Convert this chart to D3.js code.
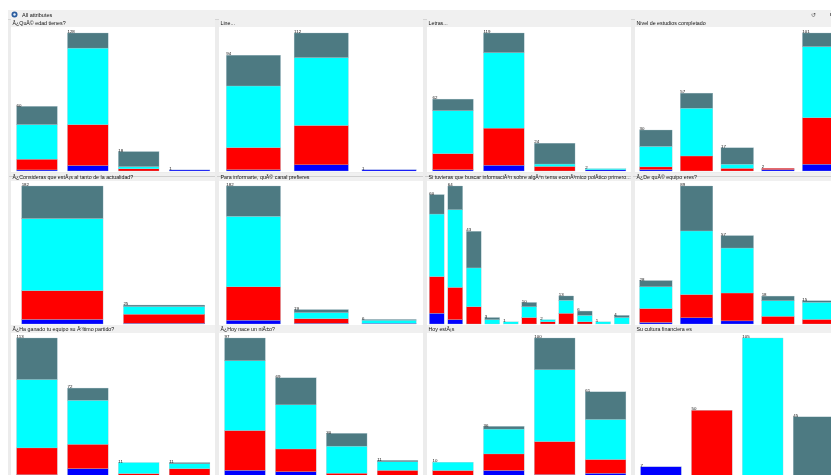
<!DOCTYPE html>
<html>
<head>
<meta charset="utf-8">
<script src="https://d3js.org/d3.v7.min.js"></script>
<style>
  html, body { margin: 0; padding: 0; background: #fff; overflow: hidden; }
  svg { display: block; filter: blur(0.45px); }
  text { font-family: "Liberation Sans", sans-serif; fill: #111; }
</style>
</head>
<body>
<div id="chart"></div>
<script>
// one array per attribute, every bar is [blue, red, cyan, slate]
const edad = [[1, 10, 32, 17], [5, 38, 71, 14], [0, 2, 2, 14], [1, 0, 0, 0]];
const linea = [[1, 18, 50, 25], [5, 32, 55, 20], [1, 0, 0, 0]];
const letras = [[1, 14, 37, 10], [5, 32, 65, 17], [0, 4, 2, 18], [1, 0, 1, 0]];
const estudios = [[1, 2, 15, 12], [0, 11, 35, 11], [0, 2, 3, 12], [1, 1, 0, 0], [5, 34, 52, 10]];
const actualidad = [[6, 38, 95, 43], [1, 12, 10, 2]];
const canal = [[5, 44, 93, 40], [1, 6, 8, 4], [1, 0, 4, 1]];
const buscar = [[5, 17, 29, 9], [2, 15, 36, 11], [0, 8, 18, 17], [0, 0, 2, 1], [0, 0, 1, 0], [0, 3, 5, 2],
                [0, 1, 1, 0], [0, 5, 6, 2], [0, 1, 3, 2], [0, 0, 1, 0], [0, 0, 3, 1]];
const equipo = [[1, 9, 14, 4], [4, 15, 41, 29], [2, 18, 29, 8], [0, 5, 10, 3], [0, 3, 11, 1]];
const ganado = [[1, 22, 56, 34], [6, 20, 36, 10], [0, 2, 9, 0], [0, 6, 4, 1]];
const nino = [[4, 28, 49, 16], [3, 16, 31, 19], [0, 2, 19, 9], [0, 4, 6, 1]];
const hoy = [[0, 4, 6, 0], [4, 12, 18, 2], [1, 24, 52, 23], [2, 10, 29, 20]];
const cultura = [[7, 0, 0, 0], [0, 50, 0, 0], [0, 0, 105, 0], [0, 0, 0, 45]];

const titles = [
  "Â¿QuÃ© edad tienes?", "Line...", "Letras...", "Nivel de estudios completado",
  "Â¿Consideras que estÃ¡s al tanto de la actualidad?", "Para informarte, quÃ© canal prefieres",
  "Si tuvieras que buscar informaciÃ³n sobre algÃºn tema econÃ³mico polÃ­tico primero...", "Â¿De quÃ© equipo eres?",
  "Â¿Ha ganado tu equipo su Ãºltimo partido?", "Â¿Hoy nace un niÃ±o?", "Hoy estÃ¡s", "Su cultura financiera es"
];
const panels = [edad, linea, letras, estudios, actualidad, canal, buscar, equipo, ganado, nino, hoy, cultura];

const keys = [0, 1, 2, 3];
const colors = ["#0000ff", "#ff0000", "#00ffff", "#4d7a82"];

const width = 831, height = 475;
const colX = [11, 219, 427, 635];
const panelW = 204;
const rowTop = [27, 181, 333];      // top of the white area
const rowBase = [171, 324, 476];    // bars stand on this
const barH = 138;

const svg = d3.select("#chart").append("svg")
  .attr("width", width)
  .attr("height", height);

// window background
svg.append("rect").attr("x", 8).attr("y", 10).attr("width", width - 8).attr("height", height - 10).attr("fill", "#ececec");

// toolbar
svg.append("rect").attr("x", 8).attr("y", 10).attr("width", width - 8).attr("height", 9).attr("fill", "#f0f0f0");
svg.append("line").attr("x1", 8).attr("x2", width).attr("y1", 19.5).attr("y2", 19.5).attr("stroke", "#d4d4d4");
svg.append("circle").attr("cx", 14.5).attr("cy", 14.5).attr("r", 3).attr("fill", "#2a5c9e");
svg.append("circle").attr("cx", 14.5).attr("cy", 14.5).attr("r", 1.2).attr("fill", "#e8f0fa");
svg.append("text").attr("x", 22).attr("y", 17).style("font-size", "5.5px").text("All attributes");
svg.append("text").attr("x", 811).attr("y", 17).style("font-size", "6px").style("fill", "#555").text("↺");
svg.append("rect").attr("x", 830).attr("y", 13).attr("width", 1).attr("height", 3).attr("fill", "#777");

const stack = d3.stack().keys(keys).value((d, k) => d[k]);

panels.forEach((bars, i) => {
  const col = i % 4, row = Math.floor(i / 4);
  const x0 = colX[col];
  const g = svg.append("g");

  // title strip and white plot area
  g.append("rect").attr("x", x0).attr("y", rowTop[row] - 8).attr("width", panelW).attr("height", 8).attr("fill", "#f0f0f0");
  g.append("rect").attr("x", x0).attr("y", rowTop[row]).attr("width", panelW).attr("height", rowBase[row] - rowTop[row] + 1).attr("fill", "#fff");
  if (row === 1) {
    g.append("line").attr("x1", x0 - 2).attr("x2", x0 + panelW).attr("y1", 176.5).attr("y2", 176.5).attr("stroke", "#cfcfcf");
  }
  g.append("text")
    .attr("x", x0 + 1.5)
    .attr("y", rowTop[row] - 2)
    .style("font-size", "5.3px")
    .text(titles[i]);

  const xScale = d3.scaleBand()
    .domain(d3.range(bars.length))
    .range([x0 + 0.5, x0 + panelW])
    .paddingInner(0.2)
    .paddingOuter(0.1);

  const totals = bars.map(d => d3.sum(d));
  const yScale = d3.scaleLinear()
    .domain([0, d3.max(totals)])
    .range([rowBase[row], rowBase[row] - barH]);

  g.selectAll("g.layer")
    .data(stack(bars))
    .enter()
    .append("g")
    .attr("class", "layer")
    .attr("fill", (d, k) => colors[k])
    .selectAll("rect")
    .data(d => d.map((v, j) => ({ y0: v[0], y1: v[1], j: j })))
    .enter()
    .append("rect")
    .attr("x", d => xScale(d.j))
    .attr("y", d => yScale(d.y1))
    .attr("width", xScale.bandwidth())
    .attr("height", d => yScale(d.y0) - yScale(d.y1))
    .attr("stroke", "#a9c4cc")
    .attr("stroke-width", d => d.y1 > d.y0 ? 0.3 : 0);

  // count over every bar
  g.selectAll("text.count")
    .data(totals)
    .enter()
    .append("text")
    .attr("class", "count")
    .attr("x", (d, j) => xScale(j))
    .attr("y", d => yScale(d) + 0.2)
    .style("font-size", "4.4px")
    .text(d => d);
});
</script>
</body>
</html>
